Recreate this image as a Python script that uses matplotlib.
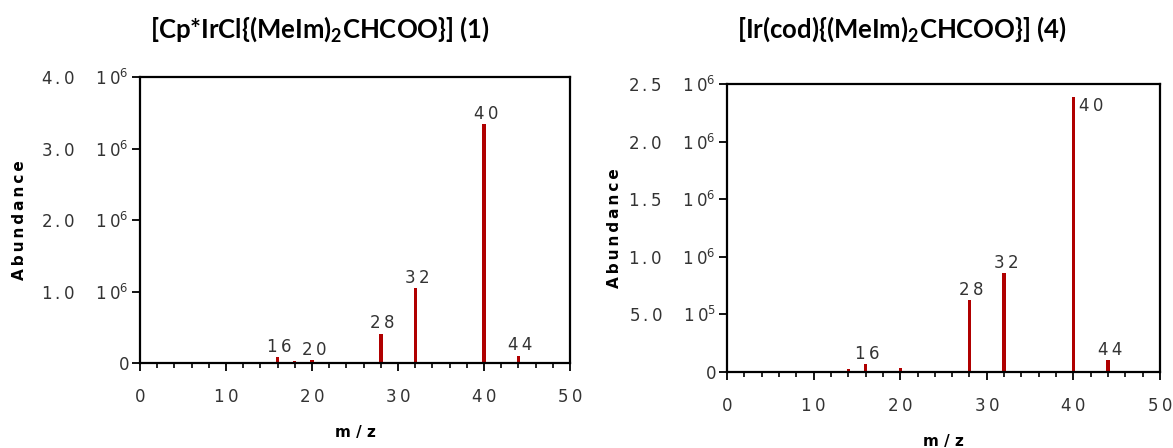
'''
Mass spectra (m/z vs abundance) for two Ir complexes.
'''

import matplotlib
matplotlib.use('Agg')
import matplotlib.pyplot as plt
from matplotlib.ticker import MultipleLocator

# --- data ---
mz_1 = [14, 16, 17, 18, 20, 28, 29, 32, 36, 40, 44]
ab_1 = [0.015e6, 0.08e6, 0.01e6, 0.03e6, 0.04e6, 0.41e6, 0.005e6, 1.05e6, 0.005e6, 3.34e6, 0.10e6]
peaks_1 = [16, 20, 28, 32, 40, 44]

mz_4 = [14, 16, 18, 20, 27, 28, 29, 31, 32, 34, 36, 39, 40, 44]
ab_4 = [0.026e6, 0.067e6, 0.004e6, 0.035e6, 0.004e6, 0.625e6, 0.006e6, 0.004e6,
        0.86e6, 0.004e6, 0.006e6, 0.008e6, 2.39e6, 0.104e6]
peaks_4 = [16, 28, 32, 40, 44]

yticks_1 = [0, 1.0e6, 2.0e6, 3.0e6, 4.0e6]
ymant_1 = ['0', '1.0', '2.0', '3.0', '4.0']
yexp_1 = [None, 6, 6, 6, 6]
yticks_4 = [0, 0.5e6, 1.0e6, 1.5e6, 2.0e6, 2.5e6]
ymant_4 = ['0', '5.0', '1.0', '1.5', '2.0', '2.5']
yexp_4 = [None, 5, 6, 6, 6, 6]

title_1 = r'[Cp*IrCl{(MeIm)$_\mathbf{2}$CHCOO}] (1)'
title_4 = r'[Ir(cod){(MeIm)$_\mathbf{2}$CHCOO}] (4)'

BAR = '#b00000'
TXT = '#333333'

plt.rcParams['font.family'] = ['DejaVu Sans']
plt.rcParams['mathtext.fontset'] = 'custom'
plt.rcParams['mathtext.rm'] = 'DejaVu Sans'
plt.rcParams['mathtext.bf'] = 'Lato:bold'


def spaced(s):
    # imitate the letter-spaced labels of the instrument software
    return '\u2009'.join(s)


def ylabel_text(mant, exp):
    if exp is None:
        return mant
    return spaced(mant) + '    ' + spaced('10') + '$^{%d}$' % exp


def spectrum(ax, mz, ab, peaks, yticks, ymant, yexp, label_x, right_label=()):
    ax.bar(mz, ab, width=0.38, color=BAR)
    ax.set_xlim(0, 50)
    ax.set_ylim(0, yticks[-1])
    ax.xaxis.set_minor_locator(MultipleLocator(2))
    ax.set_xticks(range(0, 51, 10))
    ax.set_xticklabels([spaced(str(v)) for v in range(0, 51, 10)])
    ax.set_yticks(yticks)
    ax.set_yticklabels([ylabel_text(m, e) for m, e in zip(ymant, yexp)])
    ax.tick_params(axis='both', which='major', direction='out', length=6, width=1.3,
                   labelsize=12, labelcolor=TXT)
    ax.tick_params(axis='x', which='major', pad=12)
    ax.tick_params(axis='y', pad=2)
    ax.tick_params(axis='x', which='minor', direction='out', length=3.5, width=1.2)
    for sp in ax.spines.values():
        sp.set_linewidth(1.6)
    ax.set_xlabel('m / z', fontweight='bold', fontsize=11, labelpad=14)
    ax.set_ylabel(spaced('Abundance'), fontweight='bold', fontsize=11)
    ax.yaxis.set_label_coords(label_x, 0.5)

    ymax = yticks[-1]
    for m, a in zip(mz, ab):
        if m not in peaks:
            continue
        if m in right_label:
            ax.text(m + 0.7, a, spaced(str(m)), ha='left', va='top',
                    fontsize=12, color=TXT)
        else:
            ax.text(m + 0.2, a + 0.005 * ymax, spaced(str(m)), ha='center', va='bottom',
                    fontsize=12, color=TXT)


fig = plt.figure(figsize=(11.73, 4.48), dpi=100)
ax1 = fig.add_axes([0.1194, 0.1897, 0.3666, 0.6384])
ax4 = fig.add_axes([0.6198, 0.1696, 0.3691, 0.6429])

spectrum(ax1, mz_1, ab_1, peaks_1, yticks_1, ymant_1, yexp_1, -0.263)
spectrum(ax4, mz_4, ab_4, peaks_4, yticks_4, ymant_4, yexp_4, -0.243, right_label=(40,))

for x, t in [(0.2728, title_1), (0.769, title_4)]:
    fig.text(x, 0.917, t, ha='center', va='baseline', fontsize=18.5,
             fontweight='bold', family='Lato')

fig.savefig('out.png', dpi=100)
